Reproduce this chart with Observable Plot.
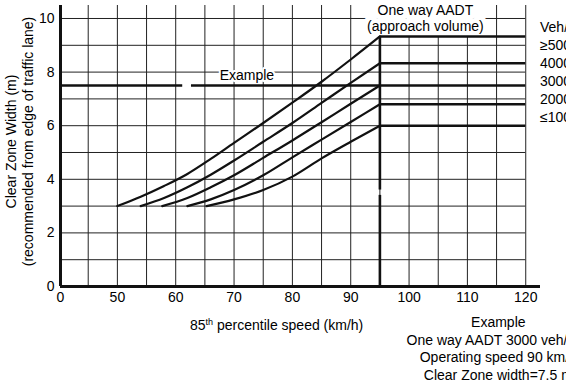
<!DOCTYPE html>
<html>
<head>
<meta charset="utf-8">
<script src="https://cdn.jsdelivr.net/npm/d3@7"></script>
<script src="https://cdn.jsdelivr.net/npm/@observablehq/plot@0.6"></script>
<style>
  html, body { margin: 0; padding: 0; background: #fff; overflow: hidden; }
  #wrap { position: relative; width: 566px; height: 381px; overflow: hidden; }
  #legend { position: absolute; left: 540px; top: 18px; font: 14px "Liberation Sans", Arial, sans-serif; line-height: 18px; white-space: nowrap; color: #000; }
</style>
</head>
<body>
<div id="wrap"><div id="legend"></div></div>
<script>
// ---- data ----
const xTickValues = [40.25, 50, 60, 70, 80, 90, 100, 110, 120];
const xTickLabels = ["0", "50", "60", "70", "80", "90", "100", "110", "120"];
const yTickValues = [0, 2, 4, 6, 8, 10];
const gridX = [45, 50, 55, 60, 65, 70, 75, 80, 85, 90, 95, 100, 105, 110, 115, 120];
const gridY = [1, 2, 3, 4, 5, 6, 7, 8, 9, 10];

const legendTitle = "Veh/day";
const volumes = ["≥5000", "4000", "3000", "2000", "≤1000"];
const maxWidth = [9.33, 8.33, 7.5, 6.8, 6.0];   // clear zone width at 95+ km/h

const speed5000 = [50, 54, 58, 62, 66, 70, 75, 80, 85, 90, 95];
const width5000 = [3, 3.35, 3.75, 4.2, 4.76, 5.36, 6.1, 6.86, 7.64, 8.47, 9.33];
const speed4000 = [54, 58, 62, 66, 70, 75, 80, 85, 90, 95];
const width4000 = [3, 3.3, 3.7, 4.17, 4.7, 5.4, 6.1, 6.85, 7.6, 8.33];
const speed3000 = [57.7, 62, 66, 70, 75, 80, 85, 90, 95];
const width3000 = [3, 3.3, 3.7, 4.15, 4.8, 5.45, 6.13, 6.82, 7.5];
const speed2000 = [62, 66, 70, 75, 80, 85, 90, 95];
const width2000 = [3, 3.25, 3.6, 4.15, 4.82, 5.48, 6.14, 6.8];
const speed1000 = [65.3, 70, 75, 80, 85, 90, 95];
const width1000 = [3, 3.25, 3.6, 4.1, 4.78, 5.4, 6.0];

const exampleTitle = "Example";
const exampleLines = ["One way AADT 3000 veh/day", "Operating speed 90 km/h", "Clear Zone width=7.5 m"];
const exampleWidth = 7.5;

// ---- build table ----
const curveSets = [
  [volumes[0], speed5000, width5000],
  [volumes[1], speed4000, width4000],
  [volumes[2], speed3000, width3000],
  [volumes[3], speed2000, width2000],
  [volumes[4], speed1000, width1000]
];
const curves = curveSets.flatMap(([v, s, w]) => s.map((sp, i) => ({volume: v, speed: sp, width: w[i]})));
const levels = volumes.map((v, i) => ({volume: v, width: maxWidth[i]}));
const xMin = xTickValues[0];

const ink = "#111";
const font = "'Liberation Sans', Arial, sans-serif";

const chart = Plot.plot({
  width: 566,
  height: 381,
  marginLeft: 60,
  marginRight: 26,
  marginTop: 5,
  marginBottom: 95,
  x: {domain: [xMin, 122.53]},
  y: {domain: [0, 10.485]},
  style: {fontFamily: font, fontSize: "14px", background: "white", color: "#000", overflow: "hidden"},
  marks: [
    // grid
    Plot.ruleX(gridX, {stroke: "#222", strokeWidth: 1}),
    Plot.ruleY(gridY, {x1: xMin, x2: 120, stroke: "#222", strokeWidth: 1}),
    // text with white backgrounds
    Plot.text(["One way AADT\n(approach volume)"], {x: 102.8, y: 10.02, lineHeight: 1.12, fontSize: 14, fill: "#000", stroke: "white", strokeWidth: 10}),
    Plot.text([exampleTitle], {x: 72.2, y: 7.87, fontSize: 14, fill: "#000", stroke: "white", strokeWidth: 4}),
    // axes lines
    Plot.ruleX([xMin], {stroke: ink, strokeWidth: 3}),
    Plot.ruleY([0], {stroke: ink, strokeWidth: 3}),
    // curves
    Plot.line(curves, {x: "speed", y: "width", z: "volume", curve: "monotone-x", stroke: ink, strokeWidth: 2.2}),
    // flat levels beyond 95 km/h
    Plot.ruleY(levels, {y: "width", x1: 95, x2: 120, stroke: ink, strokeWidth: 2.5}),
    // vertical line at 95 km/h (with small break)
    Plot.ruleX([{a: 0, b: 3.4}, {a: 3.6, b: maxWidth[0]}], {x: 95, y1: "a", y2: "b", stroke: ink, strokeWidth: 2.6}),
    // example line
    Plot.ruleY([{a: xMin, b: 61.2}, {a: 62.7, b: 95}], {y: exampleWidth, x1: "a", x2: "b", stroke: ink, strokeWidth: 2.5}),
    // axes
    Plot.axisX(xTickValues, {tickSize: 0, tickPadding: 6, tickFormat: d => xTickLabels[xTickValues.indexOf(d)], label: null, fontSize: 14}),
    Plot.axisY(yTickValues, {tickSize: 0, tickPadding: 6, label: null, fontSize: 14}),
    // axis titles
    Plot.text(["Clear Zone Width (m)"], {frameAnchor: "left", textAnchor: "middle", lineAnchor: "middle", rotate: -90, dx: -49, dy: -4.5, fontSize: 14}),
    Plot.text(["(recommended from edge of traffic lane)"], {frameAnchor: "left", textAnchor: "middle", lineAnchor: "middle", rotate: -90, dx: -32, dy: -4.5, fontSize: 14}),
    Plot.text(["85th percentile speed (km/h)"], {x: 77.3, frameAnchor: "bottom", textAnchor: "middle", lineAnchor: "middle", dy: 39, fontSize: 14}),
    // example block
    Plot.text([[exampleTitle, ...exampleLines].join("\n")], {x: 115.3, frameAnchor: "bottom", textAnchor: "middle", lineAnchor: "middle", dy: 61.5, lineHeight: 1.26, fontSize: 14})
  ]
});

// superscript "th"
d3.select(chart).selectAll("text").filter(function () { return this.textContent === "85th percentile speed (km/h)"; })
  .each(function () {
    const t = d3.select(this);
    t.text(null);
    t.append("tspan").text("85");
    t.append("tspan").attr("font-size", 9).attr("dy", -5).text("th");
    t.append("tspan").attr("dy", 5).text(" percentile speed (km/h)");
  });

const wrap = document.getElementById("wrap");
wrap.insertBefore(chart, wrap.firstChild);

const legend = d3.select("#legend");
[legendTitle, ...volumes].forEach(s => legend.append("div").text(s));
</script>
</body>
</html>
